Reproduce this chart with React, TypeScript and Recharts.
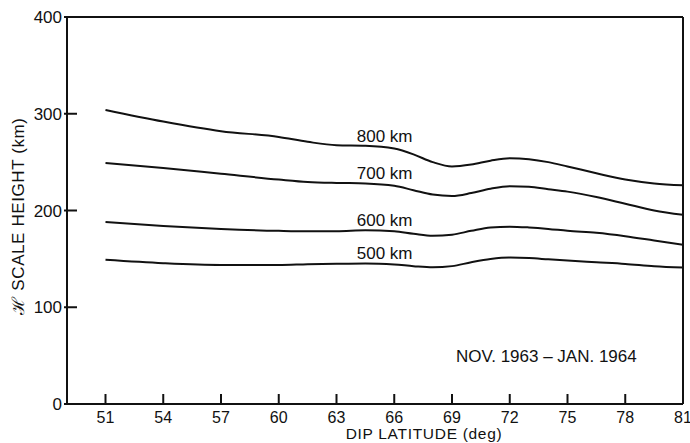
import { LineChart, Line, XAxis, YAxis, ReferenceLine, ReferenceDot } from 'recharts';

const INK = '#111';
const FONT = '"Liberation Sans", Arial, sans-serif';

// plot frame in pixels
const PLOT_LEFT = 67;
const PLOT_BOTTOM = 404;

const LATITUDE = [51, 54, 57, 60, 61.5, 63, 64.5, 66, 67, 68, 69, 70, 71, 72, 73, 74, 75, 76.5, 78, 79.5, 81];
const H800 = [304, 292, 282, 276, 271, 267.5, 267, 264, 258, 250, 245.5, 247.5, 251.5, 254, 253, 250, 245.5, 238.5, 232, 228, 226];
const H700 = [249, 244, 238, 232, 229.5, 228.5, 228, 225.5, 221, 216.5, 215, 218, 222.5, 225, 224.5, 222, 219.5, 214, 207, 200, 195.5];
const H600 = [188, 184, 181, 179, 178.5, 178.5, 179.5, 178.5, 176, 174, 175, 179, 182.5, 183.3, 182.5, 181, 179, 177, 173.5, 169, 164.5];
const H500 = [149, 145.5, 143.7, 143.7, 144.5, 145, 145.3, 144.2, 142.5, 141.3, 142.5, 146.5, 149.8, 151.3, 150.8, 149.5, 148.2, 146.5, 144.8, 142.5, 141];

const X_TICKS = [51, 54, 57, 60, 63, 66, 69, 72, 75, 78, 81];
const Y_TICKS = [0, 100, 200, 300, 400];

const SERIES = [
  { key: 'h800', name: '800 km', values: H800, labelY: 267 },
  { key: 'h700', name: '700 km', values: H700, labelY: 228 },
  { key: 'h600', name: '600 km', values: H600, labelY: 180 },
  { key: 'h500', name: '500 km', values: H500, labelY: 145.5 },
];
const LABEL_LAT = 65.5;

const data = LATITUDE.map((lat, i) => {
  const row: Record<string, number> = { lat };
  SERIES.forEach((s) => (row[s.key] = s.values[i]));
  return row;
});

const textStyle = { fill: INK, fontSize: 17, fontFamily: FONT };

function XTick({ payload }: any) {
  const x = payload.coordinate;
  return (
    <g>
      <line x1={x} x2={x} y1={PLOT_BOTTOM} y2={PLOT_BOTTOM - 10} stroke={INK} strokeWidth={2} />
      <text x={x} y={PLOT_BOTTOM + 19} textAnchor="middle" {...textStyle} fontSize={16}>
        {payload.value}
      </text>
    </g>
  );
}

function YTick({ payload }: any) {
  const y = payload.coordinate;
  return (
    <g>
      <line x1={PLOT_LEFT - 3} x2={PLOT_LEFT + 10} y1={y} y2={y} stroke={INK} strokeWidth={2} />
      <text x={PLOT_LEFT - 5} y={y + 6} textAnchor="end" {...textStyle}>
        {payload.value}
      </text>
    </g>
  );
}

export default function App() {
  return (
    <div style={{ position: 'absolute', left: 0, top: 0, width: 690, height: 443, background: '#fff' }}>
      <LineChart width={690} height={443} data={data} margin={{ top: 17, right: 7, bottom: 0, left: 0 }}>
        <XAxis
          dataKey="lat"
          type="number"
          domain={[49, 81]}
          ticks={X_TICKS}
          height={39}
          tickSize={0}
          tickLine={false}
          tick={<XTick />}
          axisLine={{ stroke: INK, strokeWidth: 2 }}
          allowDataOverflow
          label={{
            content: () => (
              <text x={424} y={439} textAnchor="middle" letterSpacing={0.7} {...textStyle} fontSize={15.5}>
                DIP LATITUDE (deg)
              </text>
            ),
          }}
        />
        <YAxis
          type="number"
          domain={[0, 400]}
          ticks={Y_TICKS}
          width={67}
          tickSize={0}
          tickLine={false}
          tick={<YTick />}
          axisLine={{ stroke: INK, strokeWidth: 2 }}
          label={{
            content: () => (
              <text
                x={24}
                y={216}
                textAnchor="middle"
                letterSpacing={0.6}
                transform="rotate(-90, 24, 216)"
                {...textStyle}
              >
                ℋ SCALE HEIGHT (km)
              </text>
            ),
          }}
        />
        <ReferenceLine y={400} stroke={INK} strokeWidth={2} ifOverflow="visible" />
        <ReferenceLine x={81} stroke={INK} strokeWidth={2} ifOverflow="visible" />
        {SERIES.map((s) => (
          <Line
            key={s.key}
            dataKey={s.key}
            type="monotone"
            stroke={INK}
            strokeWidth={2}
            dot={false}
            isAnimationActive={false}
          />
        ))}
        {SERIES.map((s) => (
          <ReferenceDot
            key={s.key + '-label'}
            x={LABEL_LAT}
            y={s.labelY}
            r={0}
            fill="none"
            stroke="none"
            label={{ value: s.name, position: 'top', offset: 4, ...textStyle }}
          />
        ))}
        <ReferenceDot
          x={73.9}
          y={50}
          r={0}
          fill="none"
          stroke="none"
          label={{ value: 'NOV. 1963 – JAN. 1964', position: 'center', ...textStyle }}
        />
      </LineChart>
    </div>
  );
}
